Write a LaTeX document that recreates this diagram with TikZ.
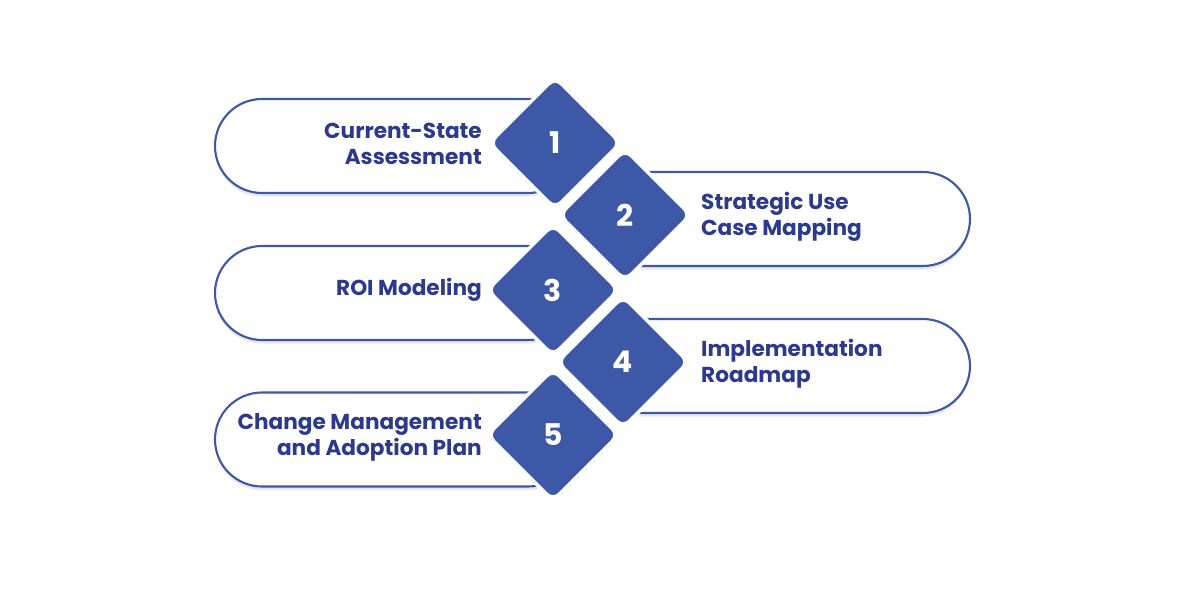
\documentclass[tikz,border=0pt]{standalone}
\usepackage{fontspec}
\setmainfont{Poppins}
\usetikzlibrary{shapes.geometric,shadows}
\definecolor{stepblue}{HTML}{3D58A6}
\definecolor{textblue}{HTML}{2B3A8F}
\tikzset{
  pill/.style={draw=stepblue, line width=1.2pt, fill=white, rounded corners=0.94cm,
    minimum height=1.88cm, drop shadow={opacity=0.18, shadow xshift=0pt, shadow yshift=-2pt}},
  stepmark/.style={diamond, fill=stepblue, draw=white, line width=2pt, rounded corners=5pt,
    minimum width=2.65cm, minimum height=2.65cm, inner sep=0pt, text=white,
    font=\fontsize{17}{19}\selectfont\bfseries},
  lbl/.style={text=textblue, font=\fontsize{12.3}{14.8}\selectfont\bfseries}
}
\begin{document}
\begin{tikzpicture}
    \useasboundingbox (0,0) rectangle (24,12);

    % Pills
    \node[pill, minimum width=7.2cm] (p1) at (7.9,9.08) {};
    \node[pill, minimum width=7.5cm] (p2) at (15.65,7.62) {};
    \node[pill, minimum width=7.2cm] (p3) at (7.9,6.14) {};
    \node[pill, minimum width=7.5cm] (p4) at (15.65,4.68) {};
    \node[pill, minimum width=7.2cm] (p5) at (7.9,3.21) {};

    % Diamonds
    \node[stepmark] (d1) at (11.1,9.14) {1};
    \node[stepmark] (d2) at (12.5,7.7) {2};
    \node[stepmark] (d3) at (11.06,6.2) {3};
    \node[stepmark] (d4) at (12.46,4.76) {4};
    \node[stepmark] (d5) at (11.06,3.3) {5};

    % Labels
    \node[lbl, anchor=east, align=right] (t1) at (9.76,9.13) {Current-State\\Assessment};
    \node[lbl, anchor=west, align=left] (t2) at (13.9,7.67) {Strategic Use\\Case Mapping};
    \node[lbl, anchor=east, align=right] (t3) at (9.76,6.2) {ROI Modeling};
    \node[lbl, anchor=west, align=left] (t4) at (13.9,4.72) {Implementation\\Roadmap};
    \node[lbl, anchor=east, align=right] (t5) at (9.76,3.26) {Change Management\\and Adoption Plan};
\end{tikzpicture}
\end{document}
